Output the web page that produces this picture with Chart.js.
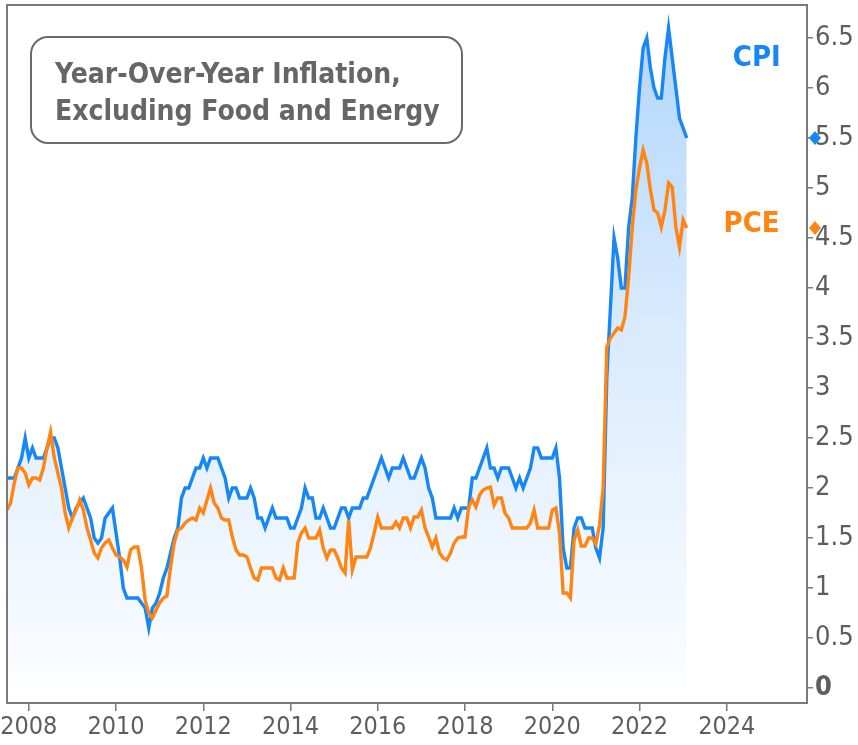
<!DOCTYPE html>
<html>
<head>
<meta charset="utf-8">
<script src="https://cdn.jsdelivr.net/npm/chart.js@4.4.1/dist/chart.umd.min.js"></script>
<style>
	html, body { margin: 0; padding: 0; background: #ffffff; }
	canvas { display: block; }
</style>
</head>
<body>
<canvas id="chart" width="858" height="745"></canvas>
<script>

// monthly series, first value is July 2007, last is February 2023
var startYear = 2007;
var startMonth = 7;

var cpiValues = [
	2.1, 2.1, 2.1, 2.2, 2.3, 2.5,
	2.3, 2.4, 2.3, 2.3, 2.3, 2.4, 2.5, 2.5, 2.4, 2.2, 2.0, 1.8,
	1.7, 1.8, 1.85, 1.9, 1.8, 1.7, 1.5, 1.45, 1.5, 1.7, 1.75, 1.8,
	1.55, 1.3, 1.0, 0.9, 0.9, 0.9, 0.9, 0.85, 0.8, 0.6, 0.8, 0.85,
	0.95, 1.1, 1.2, 1.35, 1.5, 1.6, 1.9, 2.0, 2.0, 2.1, 2.2, 2.2,
	2.3, 2.2, 2.3, 2.3, 2.3, 2.2, 2.1, 1.9, 2.0, 2.0, 1.9, 1.9,
	1.9, 2.0, 1.9, 1.7, 1.7, 1.6, 1.7, 1.8, 1.7, 1.7, 1.7, 1.7,
	1.6, 1.6, 1.7, 1.8, 2.0, 1.9, 1.9, 1.7, 1.7, 1.8, 1.7, 1.6,
	1.6, 1.7, 1.8, 1.8, 1.7, 1.8, 1.8, 1.8, 1.9, 1.9, 2.0, 2.1,
	2.2, 2.3, 2.2, 2.1, 2.2, 2.2, 2.2, 2.3, 2.2, 2.1, 2.1, 2.2,
	2.3, 2.2, 2.0, 1.9, 1.7, 1.7, 1.7, 1.7, 1.7, 1.8, 1.7, 1.8,
	1.8, 1.8, 2.1, 2.1, 2.2, 2.3, 2.4, 2.2, 2.2, 2.1, 2.2, 2.2,
	2.2, 2.1, 2.0, 2.1, 2.0, 2.1, 2.2, 2.4, 2.4, 2.3, 2.3, 2.3,
	2.3, 2.4, 2.1, 1.4, 1.2, 1.2, 1.6, 1.7, 1.7, 1.6, 1.6, 1.6,
	1.4, 1.3, 1.6, 3.1, 3.8, 4.5, 4.3, 4.0, 4.0, 4.6, 4.9, 5.5,
	6.0, 6.4, 6.5, 6.2, 6.0, 5.9, 5.9, 6.3, 6.6, 6.3, 6.0, 5.7,
	5.6, 5.5
];

var pceValues = [
	1.78, 1.85, 2.05, 2.2, 2.2, 2.15,
	2.03, 2.1, 2.1, 2.08, 2.2, 2.4, 2.56, 2.3, 2.15, 2.0, 1.75, 1.6,
	1.7, 1.78, 1.88, 1.78, 1.6, 1.48, 1.35, 1.3, 1.4, 1.45, 1.48, 1.4,
	1.33, 1.31, 1.28, 1.21, 1.38, 1.41, 1.41, 1.2, 0.88, 0.75, 0.7, 0.78,
	0.85, 0.9, 0.92, 1.21, 1.45, 1.58, 1.6, 1.65, 1.68, 1.7, 1.68, 1.8,
	1.75, 1.88, 2.0, 1.85, 1.8, 1.7, 1.68, 1.68, 1.51, 1.38, 1.33, 1.33,
	1.31, 1.2, 1.1, 1.08, 1.2, 1.2, 1.2, 1.2, 1.1, 1.08, 1.2, 1.1,
	1.1, 1.1, 1.45, 1.55, 1.6, 1.5, 1.5, 1.5, 1.58, 1.4, 1.3, 1.38,
	1.38, 1.3, 1.2, 1.15, 1.68, 1.18, 1.31, 1.31, 1.31, 1.31, 1.4, 1.55,
	1.71, 1.6, 1.6, 1.6, 1.6, 1.66, 1.6, 1.7, 1.7, 1.6, 1.71, 1.71,
	1.78, 1.6, 1.51, 1.41, 1.5, 1.35, 1.3, 1.28, 1.35, 1.45, 1.5, 1.51,
	1.51, 1.81, 1.88, 1.81, 1.93, 1.98, 2.0, 2.01, 1.83, 1.9, 1.9, 1.75,
	1.7, 1.6, 1.6, 1.6, 1.6, 1.6, 1.65, 1.78, 1.6, 1.6, 1.6, 1.6,
	1.78, 1.8, 1.55, 0.95, 0.95, 0.9, 1.48, 1.58, 1.42, 1.42, 1.5, 1.5,
	1.44, 1.63, 2.0, 3.41, 3.5, 3.55, 3.6, 3.58, 3.71, 4.1, 4.6, 4.98,
	5.2, 5.38, 5.25, 4.98, 4.78, 4.75, 4.61, 4.78, 5.05, 5.01, 4.61, 4.41,
	4.68, 4.6
];

var xTicks = [2008, 2010, 2012, 2014, 2016, 2018, 2020, 2022, 2024];
var yTicks = [0, 0.5, 1, 1.5, 2, 2.5, 3, 3.5, 4, 4.5, 5, 5.5, 6, 6.5];

var titleLines = ["Year-Over-Year Inflation,", "Excluding Food and Energy"];

var seriesLabels = [
	{ text: "CPI", x: 2024.69, y: 6.3, color: "#1787f7" },
	{ text: "PCE", x: 2024.57, y: 4.64, color: "#ff8411" }
];

var FONT = "'DejaVu Sans Condensed', 'DejaVu Sans', sans-serif";
var GREY = "#5e5e5e";
var AXIS = "#7a7a7a";

function toPoints(values) {
	return values.map(function(v, i) {
		return { x: startYear + (startMonth - 1 + i) / 12, y: v };
	});
}

function cpiGradient(context) {
	var chart = context.chart;
	var area = chart.chartArea;
	if (!area) return "rgba(180,215,250,0.5)";
	var g = chart.ctx.createLinearGradient(0, area.top, 0, area.bottom);
	g.addColorStop(0, "rgb(176,213,251)");
	g.addColorStop(0.45, "rgb(216,234,253)");
	g.addColorStop(1, "rgb(253,254,255)");
	return g;
}

// keep the tick labels from pushing the plot area in
function noLabelPadding(scale) {
	scale.paddingTop = 0;
	scale.paddingBottom = 0;
	scale.paddingLeft = 0;
	scale.paddingRight = 0;
}

var decorations = {
	id: "decorations",
	afterDraw: function(chart) {
		var ctx = chart.ctx;
		var a = chart.chartArea;
		var xs = chart.scales.x;
		var ys = chart.scales.y;

		ctx.save();

		// frame round the plot
		ctx.strokeStyle = AXIS;
		ctx.lineWidth = 2;
		ctx.strokeRect(a.left, a.top, a.right - a.left, a.bottom - a.top);

		// title box (placed from the canvas corner)
		ctx.beginPath();
		ctx.roundRect(31, 37, 431, 106, 17);
		ctx.fillStyle = "#ffffff";
		ctx.fill();
		ctx.lineWidth = 2;
		ctx.strokeStyle = "#6a6a6a";
		ctx.stroke();

		ctx.fillStyle = "#666666";
		ctx.font = "bold 28px " + FONT;
		ctx.textBaseline = "alphabetic";
		ctx.textAlign = "left";
		ctx.fillText(titleLines[0], 55, 83);
		ctx.fillText(titleLines[1], 55, 120);

		// series names
		ctx.font = "bold 29px " + FONT;
		ctx.textAlign = "center";
		ctx.textBaseline = "middle";
		seriesLabels.forEach(function(l) {
			ctx.fillStyle = l.color;
			ctx.fillText(l.text, xs.getPixelForValue(l.x), ys.getPixelForValue(l.y));
		});

		// last-value markers on the right axis
		var last = [
			{ v: cpiValues[cpiValues.length - 1], c: "#1787f7" },
			{ v: pceValues[pceValues.length - 1], c: "#ff8411" }
		];
		last.forEach(function(m) {
			var px = a.right + 8;
			var py = ys.getPixelForValue(m.v);
			ctx.beginPath();
			ctx.moveTo(px, py - 7);
			ctx.lineTo(px + 6, py);
			ctx.lineTo(px, py + 7);
			ctx.lineTo(px - 6, py);
			ctx.closePath();
			ctx.fillStyle = m.c;
			ctx.fill();
		});

		ctx.restore();
	}
};

new Chart(document.getElementById("chart").getContext("2d"), {
	type: "line",
	data: {
		datasets: [
			{
				label: "PCE",
				data: toPoints(pceValues),
				borderColor: "#ff8411",
				borderWidth: 3.4,
				pointRadius: 0,
				fill: false,
				tension: 0,
				order: 0
			},
			{
				label: "CPI",
				data: toPoints(cpiValues),
				borderColor: "#1787f7",
				backgroundColor: cpiGradient,
				borderWidth: 3.4,
				pointRadius: 0,
				fill: "origin",
				tension: 0,
				order: 1
			}
		]
	},
	options: {
		responsive: false,
		animation: false,
		devicePixelRatio: 1,
		layout: { autoPadding: false, padding: { left: 7, top: 5, right: 0, bottom: 0 } },
		plugins: {
			legend: { display: false },
			tooltip: { enabled: false },
			filler: { drawTime: "beforeDatasetsDraw" }
		},
		scales: {
			x: {
				type: "linear",
				min: 2007.5,
				max: 2025.84,
				afterBuildTicks: function(scale) {
					scale.ticks = xTicks.map(function(v) { return { value: v }; });
				},
				afterFit: function(scale) {
					scale.height = 42;
					noLabelPadding(scale);
				},
				border: { display: false },
				grid: {
					display: true,
					drawOnChartArea: false,
					drawTicks: true,
					tickLength: 8,
					color: AXIS,
					lineWidth: 1.5
				},
				ticks: {
					color: GREY,
					font: { family: FONT, size: 25 },
					padding: 1,
					maxRotation: 0,
					callback: function(v) { return String(v); }
				}
			},
			y: {
				type: "linear",
				position: "right",
				min: -0.15,
				max: 6.83,
				afterBuildTicks: function(scale) {
					scale.ticks = yTicks.map(function(v) { return { value: v }; });
				},
				afterFit: function(scale) {
					scale.width = 51;
					noLabelPadding(scale);
				},
				border: { display: false },
				grid: {
					display: true,
					drawOnChartArea: false,
					drawTicks: true,
					tickLength: 6,
					color: AXIS,
					lineWidth: 1.5
				},
				ticks: {
					color: GREY,
					font: function(c) {
						return { family: FONT, size: 27, weight: c.tick && c.tick.value === 0 ? "bold" : "normal" };
					},
					padding: 2,
					callback: function(v) { return String(v); }
				}
			}
		}
	},
	plugins: [decorations]
});

</script>
</body>
</html>
